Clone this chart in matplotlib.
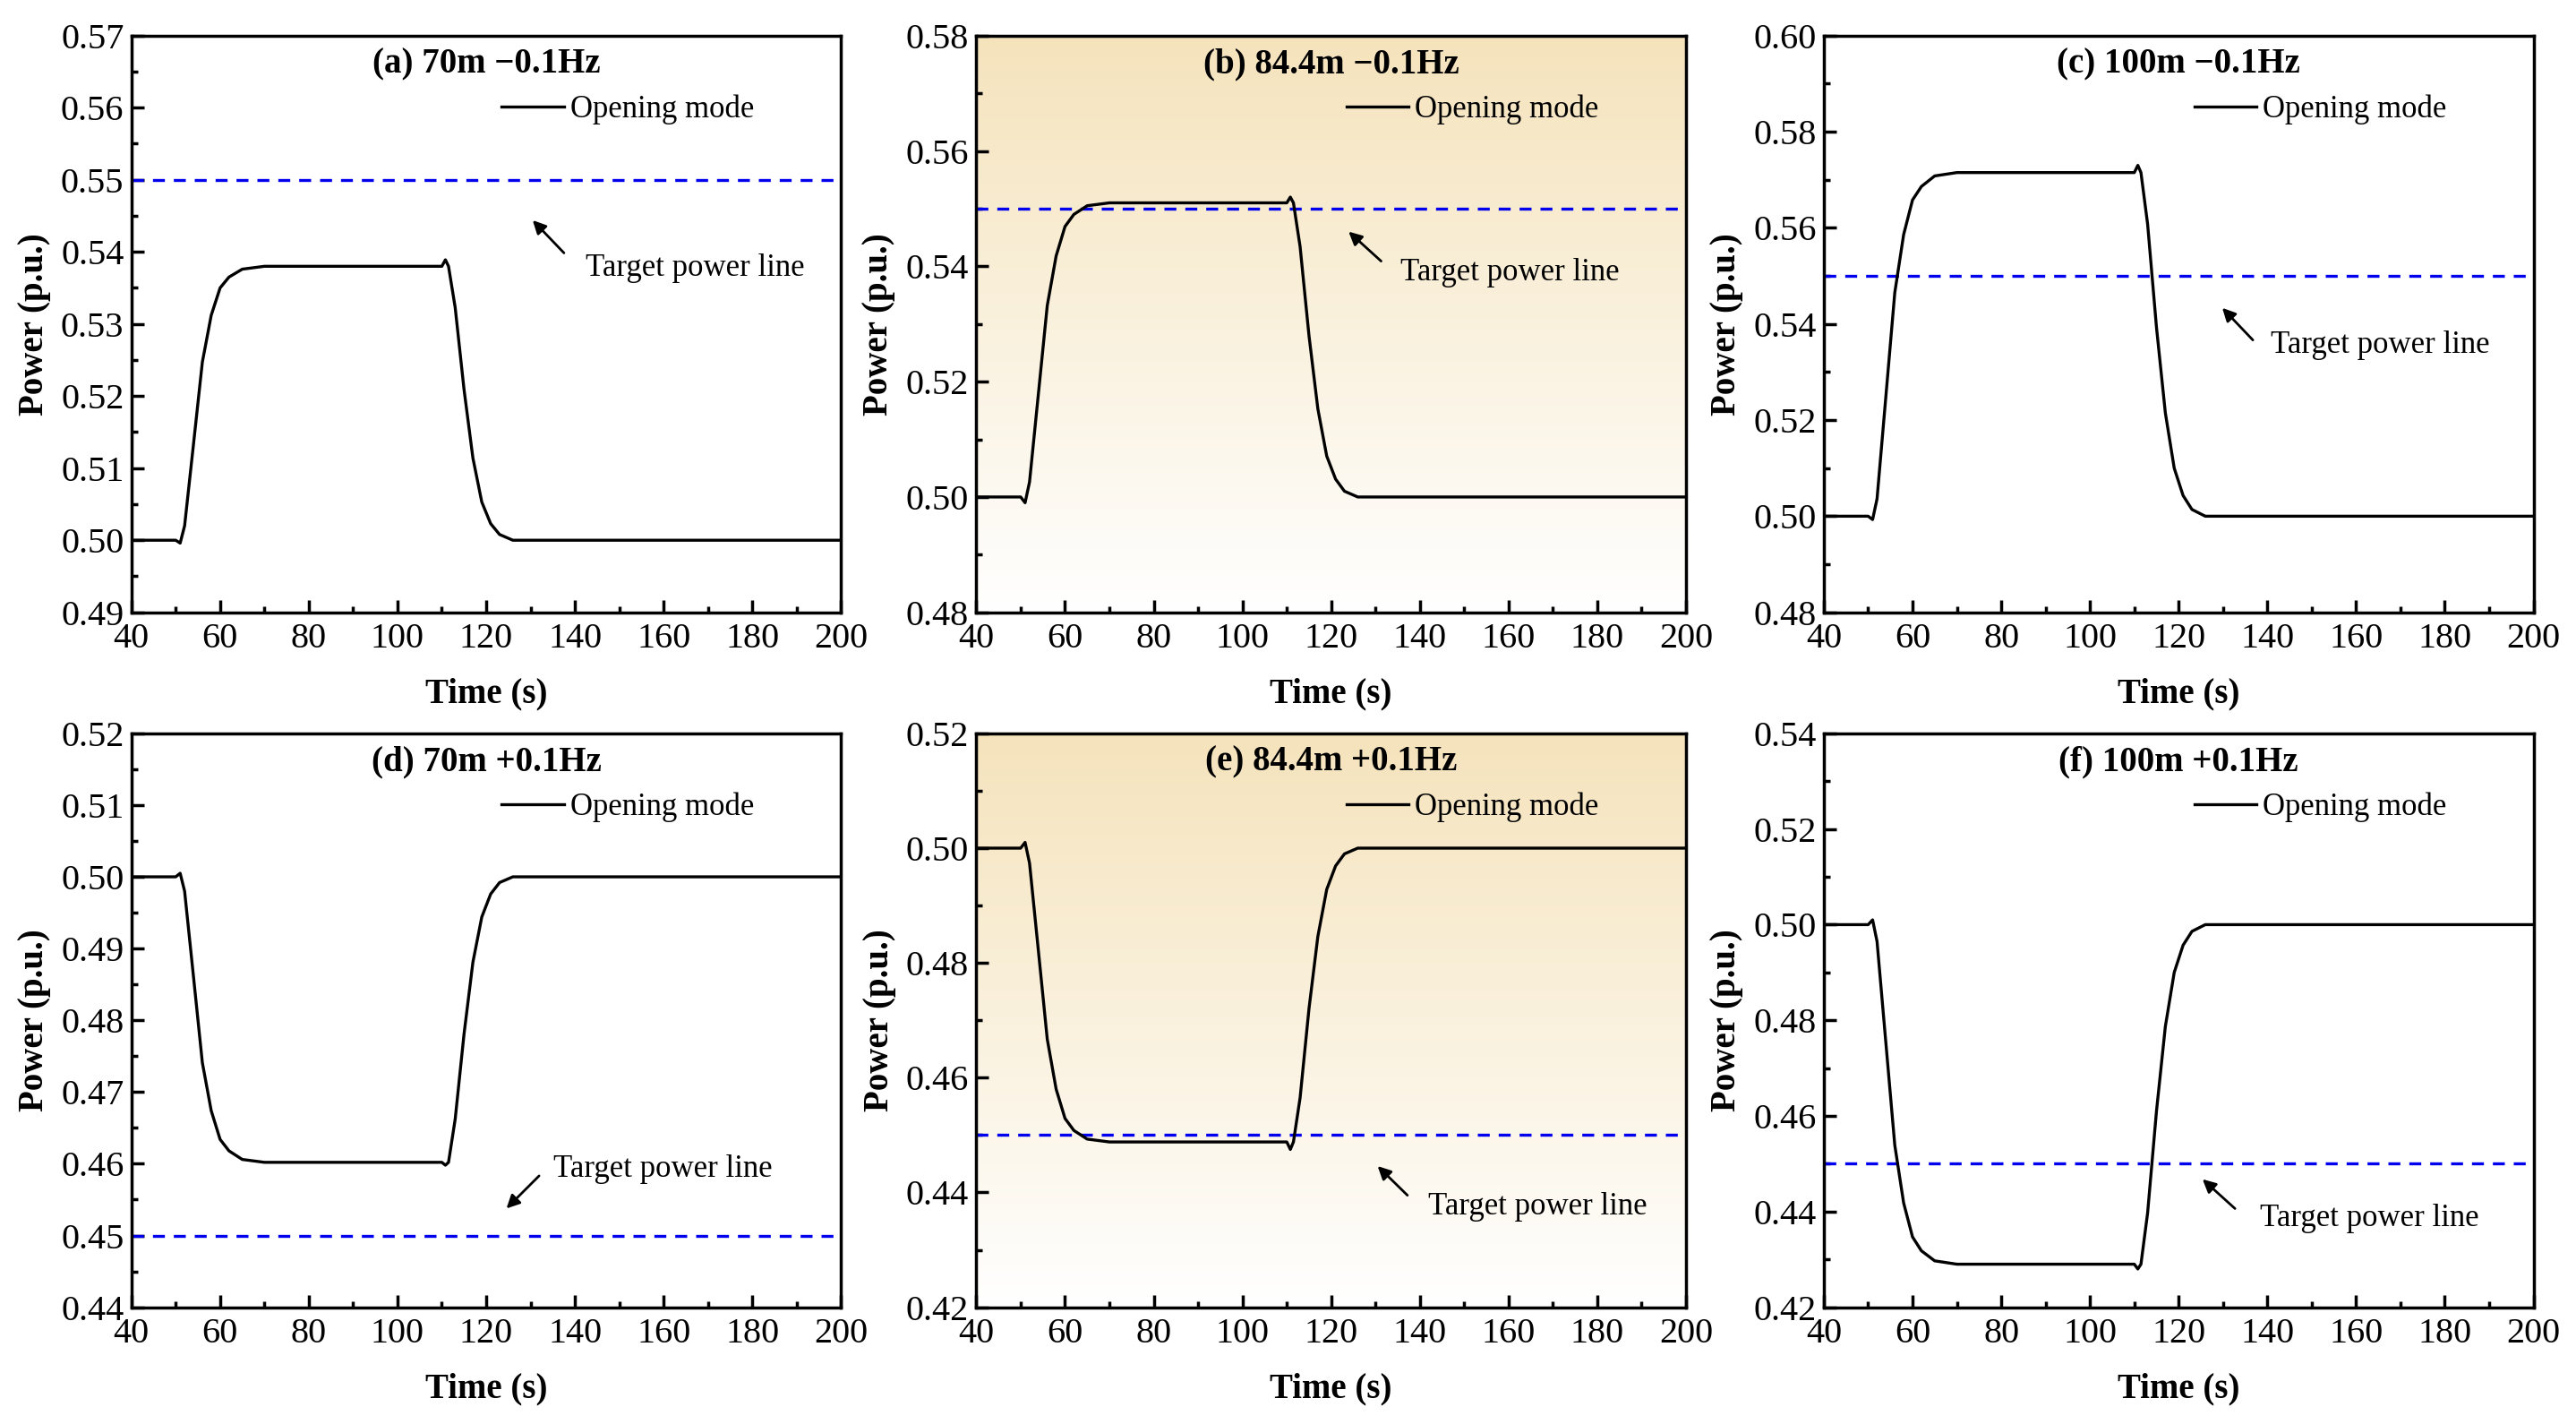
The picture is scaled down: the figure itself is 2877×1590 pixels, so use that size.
import numpy as np
import matplotlib
matplotlib.use("Agg")
import matplotlib.pyplot as plt
from matplotlib.ticker import MultipleLocator, FormatStrFormatter

plt.rcParams["font.family"] = ["Liberation Serif", "DejaVu Serif"]

# time points
t = [40, 50, 51, 52, 54, 56, 58, 60, 62, 65, 70, 110, 110.8, 111.5, 113, 115, 117, 119, 121, 123, 126, 200]

p_a = [0.5, 0.5, 0.4996, 0.502, 0.5133, 0.5247, 0.5312, 0.535, 0.5365, 0.5376, 0.538, 0.538,
       0.5389, 0.538, 0.5323, 0.5209, 0.5114, 0.5053, 0.5023, 0.5008, 0.5, 0.5]
p_b = [0.5, 0.5, 0.499, 0.5026, 0.5179, 0.5332, 0.5418, 0.5469, 0.549, 0.5505, 0.551, 0.551,
       0.552, 0.551, 0.5434, 0.528, 0.5153, 0.5071, 0.5031, 0.501, 0.5, 0.5]
p_c = [0.5, 0.5, 0.4993, 0.5036, 0.525, 0.5465, 0.5586, 0.5658, 0.5686, 0.5708, 0.5715, 0.5715,
       0.573, 0.5715, 0.5608, 0.5393, 0.5215, 0.51, 0.5043, 0.5014, 0.5, 0.5]
p_d = [0.5, 0.5, 0.5005, 0.498, 0.4861, 0.4741, 0.4674, 0.4634, 0.4618, 0.4606, 0.4602, 0.4602,
       0.4598, 0.4602, 0.4662, 0.4781, 0.4881, 0.4944, 0.4976, 0.4992, 0.5, 0.5]
p_e = [0.5, 0.5, 0.501, 0.4974, 0.4821, 0.4667, 0.458, 0.4529, 0.4508, 0.4493, 0.4488, 0.4488,
       0.4475, 0.4488, 0.4565, 0.472, 0.4846, 0.4928, 0.4969, 0.499, 0.5, 0.5]
p_f = [0.5, 0.5, 0.501, 0.4965, 0.4752, 0.4539, 0.4418, 0.4347, 0.4318, 0.4297, 0.429, 0.429,
       0.428, 0.429, 0.4397, 0.461, 0.4787, 0.49, 0.4957, 0.4986, 0.5, 0.5]

titles = ["(a) 70m \u22120.1Hz", "(b) 84.4m \u22120.1Hz", "(c) 100m \u22120.1Hz",
          "(d) 70m +0.1Hz", "(e) 84.4m +0.1Hz", "(f) 100m +0.1Hz"]
targets = [0.55, 0.55, 0.55, 0.45, 0.45, 0.45]
ylims = [(0.49, 0.57), (0.48, 0.58), (0.48, 0.60), (0.44, 0.52), (0.42, 0.52), (0.42, 0.54)]
ysteps = [0.01, 0.02, 0.02, 0.01, 0.02, 0.02]
shaded = [False, True, False, False, True, False]
# (text pos, arrow head, arrow tail) in axes fraction
annots = [((0.64, 0.597), (0.563, 0.683), (0.612, 0.62)),
          ((0.598, 0.589), (0.522, 0.663), (0.573, 0.606)),
          ((0.63, 0.463), (0.559, 0.531), (0.607, 0.469)),
          ((0.595, 0.241), (0.526, 0.169), (0.577, 0.232)),
          ((0.637, 0.175), (0.563, 0.249), (0.61, 0.192)),
          ((0.614, 0.155), (0.531, 0.226), (0.582, 0.169))]
series = [p_a, p_b, p_c, p_d, p_e, p_f]

fig = plt.figure(figsize=(28.77, 15.90), dpi=100)
lefts = [0.051, 0.379, 0.708]
rows = [(0.570, 0.405), (0.082, 0.403)]
w = 0.2755

grad = np.linspace(0, 1, 256).reshape(-1, 1)
top_col = np.array([245, 227, 188]) / 255
cols = grad[..., None] * top_col + (1 - grad[..., None]) * np.ones(3)

for k in range(6):
    r, c = divmod(k, 3)
    ax = fig.add_axes([lefts[c], rows[r][0], w, rows[r][1]])
    if shaded[k]:
        ax.imshow(cols, extent=[0, 1, 0, 1], transform=ax.transAxes, aspect="auto",
                  origin="lower", zorder=0)
    ax.plot(t, series[k], color="black", lw=2.4, label="Opening mode", zorder=3)
    ax.axhline(targets[k], color="#0000ee", lw=2.4, ls=(0, (4, 3)), zorder=2)
    ax.set_xlim(40, 200)
    ax.set_ylim(*ylims[k])
    ax.xaxis.set_major_locator(MultipleLocator(20))
    ax.xaxis.set_minor_locator(MultipleLocator(10))
    ax.yaxis.set_major_locator(MultipleLocator(ysteps[k]))
    ax.yaxis.set_minor_locator(MultipleLocator(ysteps[k] / 2))
    ax.yaxis.set_major_formatter(FormatStrFormatter("%.2f"))
    ax.tick_params(which="both", direction="in", labelsize=29, width=2.5, top=False, right=False)
    ax.tick_params(axis="x", pad=8)
    ax.tick_params(axis="y", pad=6)
    ax.tick_params(which="major", length=10)
    ax.tick_params(which="minor", length=5)
    for s in ax.spines.values():
        s.set_linewidth(2.5)
    ax.set_xlabel("Time (s)", fontsize=28, fontweight="bold", labelpad=18)
    ax.set_ylabel("Power (p.u.)", fontsize=28, fontweight="bold", labelpad=8)
    ax.text(0.5, 0.95, titles[k], transform=ax.transAxes, ha="center", va="center",
            fontsize=28, fontweight="bold")
    ax.legend(loc="upper left", bbox_to_anchor=(0.5, 0.925), frameon=False, fontsize=25,
              handlelength=2.0, handletextpad=0.2, borderpad=0)
    (tx, ty), head, tail = annots[k]
    ax.annotate("", xy=head, xytext=tail, xycoords="axes fraction",
                arrowprops=dict(arrowstyle="-|>", color="black", lw=2, mutation_scale=22))
    ax.text(tx, ty, "Target power line", transform=ax.transAxes, fontsize=25, va="center")

fig.savefig("out.png", dpi=100)
